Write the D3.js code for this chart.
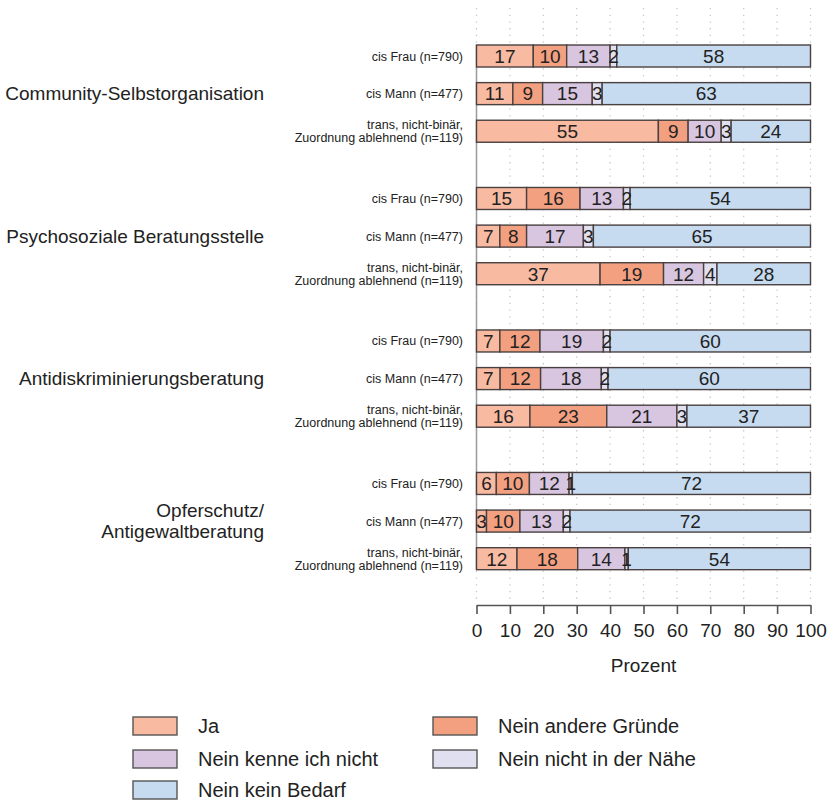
<!DOCTYPE html>
<html><head><meta charset="utf-8">
<script src="https://cdn.jsdelivr.net/npm/d3@7"></script>
<style>body{margin:0;background:#fff;font-family:"Liberation Sans",Arial,sans-serif;}</style>
</head><body><svg id="c" width="830" height="801"></svg>
<script>
const groups = ["Community-Selbstorganisation", "Psychosoziale Beratungsstelle", "Antidiskriminierungsberatung", "Opferschutz/\nAntigewaltberatung"];
const subgroups = ["cis Frau (n=790)", "cis Mann (n=477)", "trans, nicht-binär,\nZuordnung ablehnend (n=119)"];
const categories = ["Ja", "Nein andere Gründe", "Nein kenne ich nicht", "Nein nicht in der Nähe", "Nein kein Bedarf"];
const colors = ["#F9BAA2", "#F3A081", "#D8C5E0", "#E0E0F0", "#C6DBEF"];
// values per group, per subgroup, per category (percent)
const ja =       [[17,11,55],[15,7,37],[7,7,16],[6,3,12]];
const andere =   [[10,9,9],[16,8,19],[12,12,23],[10,10,18]];
const kenne =    [[13,15,10],[13,17,12],[19,18,21],[12,13,14]];
const naehe =    [[2,3,3],[2,3,4],[2,2,3],[1,2,1]];
const bedarf =   [[58,63,24],[54,65,28],[60,60,37],[72,72,54]];
const xTicks = [0,10,20,30,40,50,60,70,80,90,100];
const xTitle = "Prozent";

const series = [ja, andere, kenne, naehe, bedarf];
const svg = d3.select("#c");
const x = d3.scaleLinear().domain([0,100]).range([476.5, 810.5]);
const gy = d3.scaleBand().domain(groups).range([37.2, 577.5]).paddingInner(0.208).paddingOuter(0);
const sy = d3.scaleBand().domain(subgroups).range([0, gy.bandwidth()]).paddingInner(0.415).paddingOuter(0.2075);

// gridlines
svg.append("g").selectAll("line").data(xTicks).join("line")
  .attr("x1", d=>x(d)).attr("x2", d=>x(d)).attr("y1", 8).attr("y2", 600)
  .attr("stroke", "#c4c4c4").attr("stroke-width", 1.2).attr("stroke-dasharray", "1.3,5.4");

// left axis line
svg.append("line").attr("x1", x(0)).attr("x2", x(0))
  .attr("y1", gy(groups[0]) + sy(subgroups[0]))
  .attr("y2", gy(groups[3]) + sy(subgroups[2]) + sy.bandwidth())
  .attr("stroke", "#9a9a9a").attr("stroke-width", 1.5);

const rows = [];
groups.forEach((g, gi) => subgroups.forEach((s, si) => {
  const vals = series.map(ser => ser[gi][si]);
  const total = d3.sum(vals);
  let cum = 0;
  const segs = vals.map((v, ci) => { const seg = {v, ci, x0: cum/total*100, x1: (cum+v)/total*100}; cum += v; return seg; });
  rows.push({g, s, segs, y: gy(g) + sy(s)});
}));

const rowG = svg.append("g").selectAll("g").data(rows).join("g").attr("transform", d=>`translate(0,${d.y})`);
rowG.selectAll("rect").data(d=>d.segs).join("rect")
  .attr("x", d=>x(d.x0)).attr("width", d=>x(d.x1)-x(d.x0))
  .attr("y", 0).attr("height", sy.bandwidth())
  .attr("fill", d=>colors[d.ci]).attr("stroke", "#4a4040").attr("stroke-width", 1.4);
rowG.selectAll("text").data(d=>d.segs).join("text")
  .attr("x", d=>(x(d.x0)+x(d.x1))/2).attr("y", sy.bandwidth()/2).attr("dy", "0.36em")
  .attr("text-anchor", "middle").attr("font-size", 19).attr("fill", "#222")
  .text(d=>d.v);

// row labels
rows.forEach(r => {
  const lines = r.s.split("\n");
  const t = svg.append("text").attr("text-anchor", "end").attr("font-size", 12.5).attr("fill", "#222");
  const cy = r.y + sy.bandwidth()/2;
  lines.forEach((l, i) => {
    t.append("tspan").attr("x", 463).attr("y", cy + (i - (lines.length-1)/2)*13).attr("dy", "0.36em").text(l);
  });
});

// group labels
groups.forEach(g => {
  const lines = g.split("\n");
  const cy = gy(g) + sy(subgroups[1]) + sy.bandwidth()/2;
  const t = svg.append("text").attr("text-anchor", "end").attr("font-size", 19).attr("fill", "#222");
  lines.forEach((l, i) => {
    t.append("tspan").attr("x", 264).attr("y", cy + (i - (lines.length-1)/2)*21).attr("dy", "0.36em").text(l);
  });
});

// x axis
const ax = svg.append("g").attr("transform", "translate(0,605)")
  .call(d3.axisBottom(x).tickValues(xTicks).tickSize(9).tickPadding(10).tickSizeOuter(0));
ax.select(".domain").attr("stroke", "#555").attr("stroke-width", 1.6);
ax.selectAll(".tick line").attr("stroke", "#555").attr("stroke-width", 1.6);
ax.selectAll(".tick text").attr("font-size", 19).attr("fill", "#222").attr("font-family", "Liberation Sans, Arial, sans-serif");
svg.append("text").attr("x", x(50)).attr("y", 665).attr("dy", "0.36em").attr("text-anchor", "middle")
  .attr("font-size", 19).attr("fill", "#222").text(xTitle);

// legend
const legendPos = [[133,726],[433,726],[133,759],[433,759],[133,790]];
const lg = svg.append("g").selectAll("g").data(categories).join("g")
  .attr("transform", (d,i)=>`translate(${legendPos[i][0]},${legendPos[i][1]})`);
lg.append("rect").attr("x", 0).attr("y", -9).attr("width", 44).attr("height", 18)
  .attr("fill", (d,i)=>colors[i]).attr("stroke", "#555").attr("stroke-width", 1.4);
lg.append("text").attr("x", 65).attr("y", 0).attr("dy", "0.36em").attr("font-size", 20).attr("fill", "#222").text(d=>d);
</script></body></html>
